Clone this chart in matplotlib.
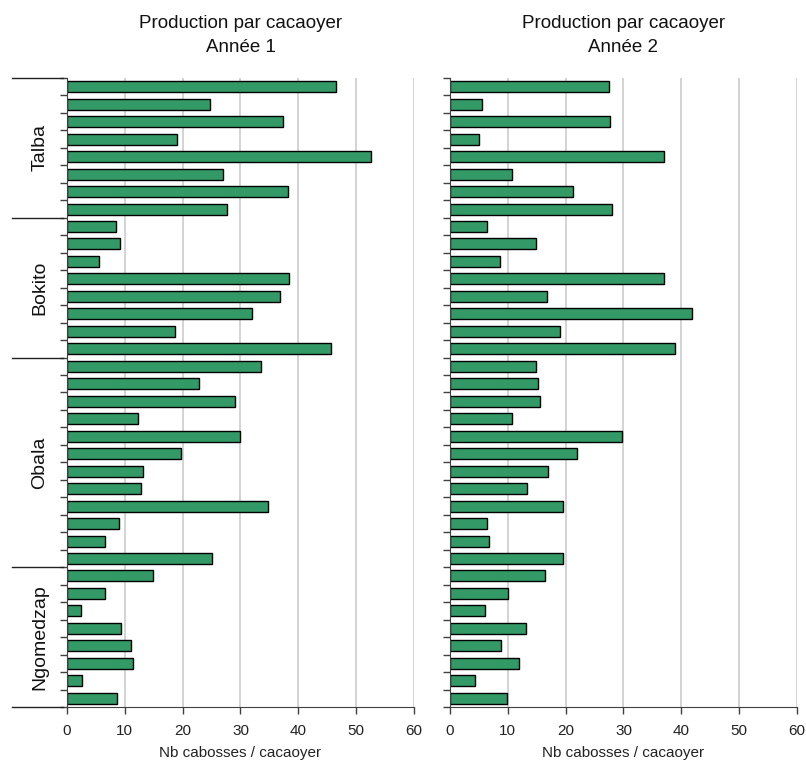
import matplotlib.pyplot as plt
import matplotlib.transforms as mtransforms
import numpy as np

plt.rcParams['font.family'] = ['Liberation Sans', 'DejaVu Sans']

# groupes (de haut en bas) et nb de cacaoyers par groupe
groupes = ["Talba", "Bokito", "Obala", "Ngomedzap"]
nb_par_groupe = [8, 8, 12, 8]

# nb cabosses / cacaoyer, annee 1
annee1 = [46.5, 24.8, 37.4, 19.1, 52.6, 27.0, 38.2, 27.6,
          8.4, 9.2, 5.5, 38.4, 36.9, 32.0, 18.7, 45.6,
          33.5, 22.9, 29.1, 12.3, 30.0, 19.8, 13.2, 12.8, 34.8, 9.0, 6.6, 25.1,
          14.9, 6.6, 2.4, 9.4, 11.1, 11.5, 2.6, 8.7]

# annee 2
annee2 = [27.5, 5.5, 27.6, 5.1, 37.0, 10.7, 21.2, 28.0,
          6.4, 14.9, 8.6, 37.0, 16.8, 41.8, 19.0, 38.9,
          14.9, 15.3, 15.5, 10.7, 29.7, 21.9, 17.0, 13.4, 19.6, 6.4, 6.8, 19.6,
          16.4, 10.0, 6.0, 13.2, 8.9, 11.9, 4.3, 9.8]

titres = ["Production par cacaoyer\nAnnée 1", "Production par cacaoyer\nAnnée 2"]

n = len(annee1)
ypos = np.arange(n)
bornes = np.concatenate([[0], np.cumsum(nb_par_groupe)]) - 0.5

fig = plt.figure(figsize=(8.06, 7.63), dpi=100)
ax1 = fig.add_axes([0.0831, 0.0734, 0.4305, 0.8244])
ax2 = fig.add_axes([0.5583, 0.0734, 0.4305, 0.8244])

for ax, vals, titre in zip([ax1, ax2], [annee1, annee2], titres):
    ax.barh(ypos, vals, height=0.63, color="#339966", edgecolor="black", linewidth=1.0, zorder=3)
    ax.set_xlim(0, 60)
    ax.set_ylim(n - 0.5, -0.5)
    ax.set_xticks(range(0, 61, 10))
    ax.set_yticks(np.arange(-0.5, n, 1.0))
    ax.set_yticklabels([])
    ax.tick_params(axis="y", length=5, width=1, direction="out", color="#404040")
    ax.tick_params(axis="x", length=5, width=1, direction="out", color="#404040",
                   labelsize=11, pad=7, labelcolor="#222222")
    for x in range(10, 61, 10):
        ax.axvline(x, color="#cccccc", linewidth=1.2, zorder=1)
    for s in ["top", "right"]:
        ax.spines[s].set_visible(False)
    for s in ["left", "bottom"]:
        ax.spines[s].set_color("#404040")
        ax.spines[s].set_zorder(4)
    ax.set_xlabel("Nb cabosses / cacaoyer", fontsize=11, labelpad=6, color="#222222")
    ax.set_title(titre, fontsize=13.5, pad=19, linespacing=1.5, color="#111111")

# separateurs et noms des groupes a gauche
trans = mtransforms.blended_transform_factory(ax1.transAxes, ax1.transData)
for b in bornes:
    ax1.plot([-0.158, -0.012], [b, b], color="#222222", linewidth=1.0, transform=trans, clip_on=False)
for i, g in enumerate(groupes):
    milieu = (bornes[i] + bornes[i + 1]) / 2
    ax1.text(-0.078, milieu, g, rotation=90, ha="center", va="center", fontsize=14,
             color="#111111", transform=trans)

plt.savefig("out.png", dpi=100)
